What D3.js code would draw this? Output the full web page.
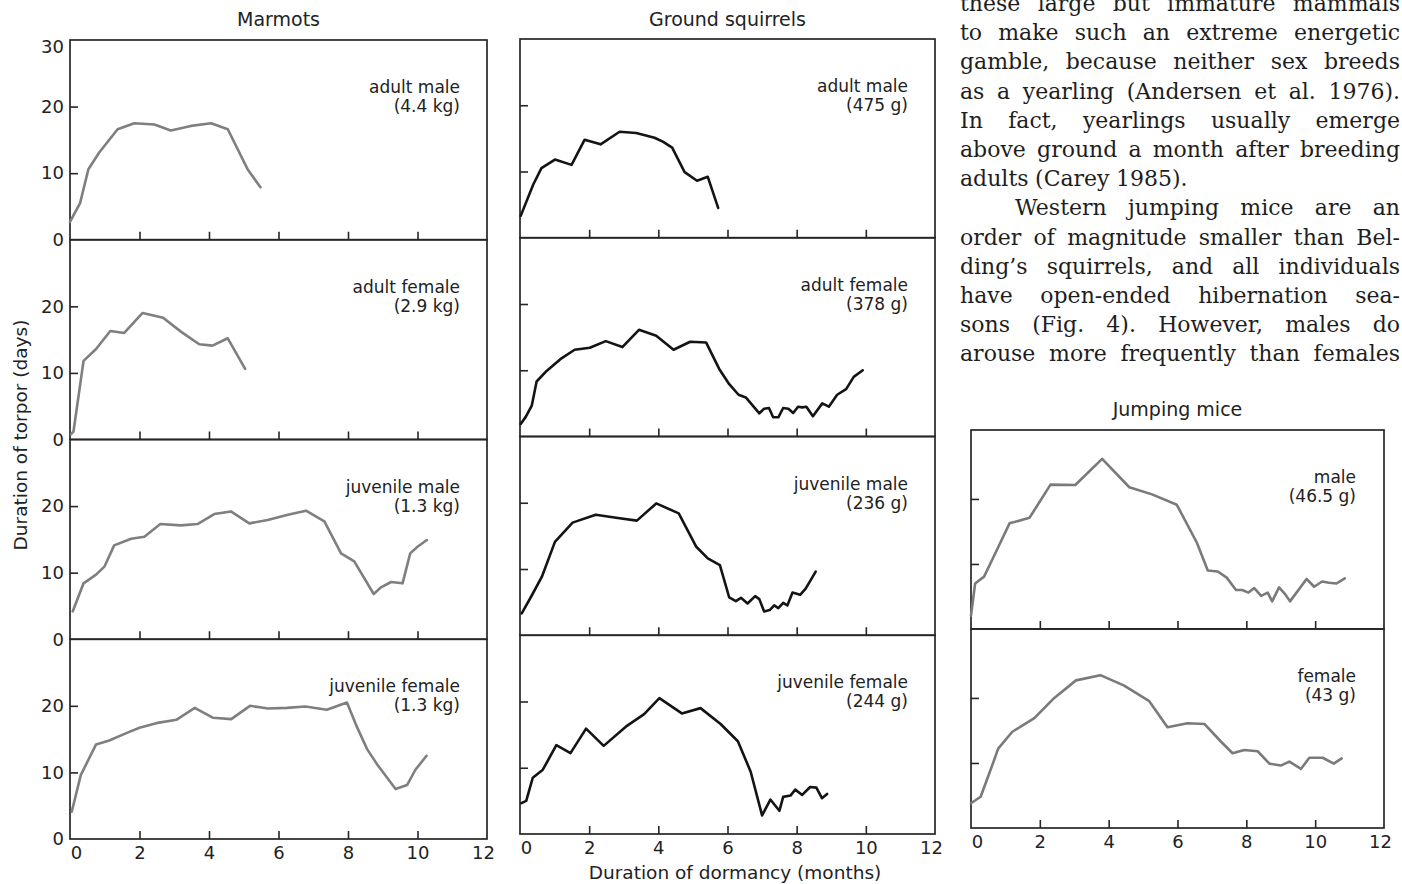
<!DOCTYPE html>
<html>
<head>
<meta charset="utf-8">
<script src="https://cdn.jsdelivr.net/npm/d3@7"></script>
<style>
  body { margin: 0; background: #fff; }
  svg text { font-family: "DejaVu Sans", sans-serif; fill: #222; }
  .para text { font-family: "DejaVu Serif", serif; font-size: 22px; fill: #1e1e1e; }
</style>
</head>
<body>
<svg id="fig" width="1402" height="884"></svg>
<script>
// tick values shared by every panel
const xTicks = [0, 2, 4, 6, 8, 10, 12];
const yTicks = [0, 10, 20];

// [months, days of torpor]
const marmotAdultMale = [[0,2.7],[0.29,5.5],[0.53,10.6],[0.84,13.1],[1.37,16.6],[1.85,17.5],[2.43,17.3],[2.9,16.4],[3.48,17.1],[4.06,17.5],[4.54,16.6],[5.11,10.6],[5.48,7.9]];
const marmotAdultFemale = [[0.03,0.8],[0.1,1.2],[0.39,11.8],[0.75,13.6],[1.16,16.3],[1.56,16.0],[2.09,19.0],[2.68,18.3],[3.19,16.2],[3.72,14.3],[4.1,14.1],[4.54,15.2],[5.04,10.6]];
const marmotJuvMale = [[0.08,4.2],[0.39,8.4],[0.75,9.7],[0.99,10.9],[1.27,14.1],[1.76,15.1],[2.14,15.4],[2.6,17.3],[3.19,17.1],[3.67,17.3],[4.15,18.8],[4.63,19.2],[5.16,17.4],[5.69,17.9],[6.27,18.7],[6.79,19.3],[7.32,17.7],[7.8,12.9],[8.18,11.7],[8.74,6.8],[8.95,7.8],[9.24,8.6],[9.57,8.4],[9.79,12.9],[10.0,13.9],[10.27,14.9]];
const marmotJuvFemale = [[0.05,4.1],[0.31,9.6],[0.75,14.2],[1.13,14.8],[1.62,15.9],[2.0,16.7],[2.48,17.4],[3.06,17.9],[3.59,19.7],[4.12,18.2],[4.64,18.0],[5.18,20.0],[5.7,19.6],[6.24,19.7],[6.77,19.9],[7.39,19.4],[7.97,20.5],[8.26,16.8],[8.55,13.5],[8.84,11.2],[9.37,7.5],[9.7,8.1],[9.94,10.4],[10.26,12.5]];

const squirrelAdultMale = [[0.02,3.3],[0.38,8.0],[0.62,10.5],[1.01,11.8],[1.49,11.0],[1.87,14.8],[2.33,14.1],[2.88,16.0],[3.36,15.8],[3.89,15.1],[4.13,14.5],[4.4,13.6],[4.76,9.9],[5.12,8.6],[5.43,9.2],[5.73,4.5]];
const squirrelAdultFemale = [[0.02,1.9],[0.17,3.0],[0.34,4.65],[0.48,8.3],[0.77,9.9],[1.2,11.8],[1.58,13.1],[2.02,13.4],[2.48,14.4],[2.96,13.5],[3.44,16.1],[3.94,15.2],[4.44,13.1],[4.92,14.3],[5.38,14.2],[5.76,10.2],[6.05,7.9],[6.32,6.3],[6.53,5.9],[6.92,3.5],[7.06,4.2],[7.2,4.3],[7.32,2.9],[7.47,2.9],[7.61,4.3],[7.76,4.2],[7.9,3.55],[8.04,4.5],[8.16,4.4],[8.28,4.5],[8.47,3.05],[8.74,5.0],[8.93,4.5],[9.17,6.3],[9.43,7.15],[9.65,9.0],[9.91,10.0]];
const squirrelJuvMale = [[0.05,3.3],[0.34,6.0],[0.63,8.8],[1.01,14.1],[1.52,17.0],[2.19,18.2],[2.83,17.7],[3.38,17.3],[3.94,19.9],[4.59,18.4],[5.09,13.4],[5.43,11.6],[5.78,10.6],[6.05,5.7],[6.24,5.15],[6.39,5.65],[6.58,4.8],[6.8,5.9],[6.92,5.45],[7.06,3.6],[7.22,3.8],[7.35,4.5],[7.47,4.1],[7.61,4.9],[7.73,4.5],[7.88,6.45],[8.1,6.1],[8.26,7.05],[8.55,9.6]];
const squirrelJuvFemale = [[0.04,4.65],[0.18,5.0],[0.37,8.5],[0.66,9.7],[1.05,13.4],[1.46,12.2],[1.91,15.9],[2.42,13.3],[3.06,16.2],[3.59,18.1],[4.03,20.5],[4.68,18.2],[5.22,19.0],[5.8,16.6],[6.3,14.0],[6.67,9.4],[7.0,2.8],[7.24,5.2],[7.5,3.5],[7.61,5.6],[7.82,5.8],[7.96,6.7],[8.16,5.9],[8.39,7.1],[8.57,7.0],[8.73,5.4],[8.88,6.05]];

const mouseMale = [[0,2.05],[0.12,7.0],[0.38,8.05],[0.72,11.8],[1.12,16.25],[1.7,17.1],[2.31,22.2],[3.03,22.15],[3.81,26.15],[4.6,21.8],[5.26,20.7],[5.98,19.1],[6.56,13.3],[6.88,9.0],[7.17,8.85],[7.43,7.9],[7.7,6.0],[7.88,6.0],[8.06,5.6],[8.23,6.3],[8.43,5.1],[8.62,5.6],[8.75,4.25],[8.95,6.4],[9.12,5.4],[9.27,4.25],[9.75,7.7],[9.97,6.5],[10.2,7.3],[10.4,7.1],[10.62,7.0],[10.86,7.8]];
const mouseFemale = [[0,3.8],[0.28,4.8],[0.58,9.1],[0.79,12.2],[1.2,14.8],[1.84,16.9],[2.42,20.0],[3.05,22.7],[3.76,23.5],[4.45,21.9],[5.18,19.5],[5.71,15.5],[6.29,16.1],[6.78,16.0],[7.26,13.3],[7.6,11.5],[7.94,12.0],[8.33,11.8],[8.67,9.9],[9.0,9.6],[9.25,10.2],[9.59,9.1],[9.83,10.8],[10.22,10.8],[10.54,9.9],[10.77,10.7]];

// panel captions
const marmotLabels = [['adult male', '(4.4 kg)'], ['adult female', '(2.9 kg)'], ['juvenile male', '(1.3 kg)'], ['juvenile female', '(1.3 kg)']];
const squirrelLabels = [['adult male', '(475 g)'], ['adult female', '(378 g)'], ['juvenile male', '(236 g)'], ['juvenile female', '(244 g)']];
const mouseLabels = [['male', '(46.5 g)'], ['female', '(43 g)']];

// body text to the right of the figure
const paraLines = [
  'these large but immature mammals',
  'to make such an extreme energetic',
  'gamble, because neither sex breeds',
  'as a yearling (Andersen et al. 1976).',
  'In fact, yearlings usually emerge',
  'above ground a month after breeding',
  'adults (Carey 1985).',
  'Western jumping mice are an',
  'order of magnitude smaller than Bel-',
  'ding\u2019s squirrels, and all individuals',
  'have open-ended hibernation sea-',
  'sons (Fig. 4). However, males do',
  'arouse more frequently than females'
];

const svg = d3.select('#fig');
const frameColor = '#262626';

const columns = [
  {title: 'Marmots', titleY: 26, left: 70, right: 487, top: 40, h: 199.75, yMax: 30,
   color: '#7f7f7f', yLabels: true, capX: 460,
   series: [marmotAdultMale, marmotAdultFemale, marmotJuvMale, marmotJuvFemale], caps: marmotLabels},
  {title: 'Ground squirrels', titleY: 26, left: 520, right: 935, top: 39, h: 198.75, yMax: 30,
   color: '#141414', yLabels: false, capX: 908,
   series: [squirrelAdultMale, squirrelAdultFemale, squirrelJuvMale, squirrelJuvFemale], caps: squirrelLabels},
  {title: 'Jumping mice', titleY: 416, left: 971, right: 1384, top: 430, h: 199, yMax: 30.6,
   color: '#7a7a7a', yLabels: false, capX: 1356,
   series: [mouseMale, mouseFemale], caps: mouseLabels}
];

function noDomain(a) { a.select('.domain').remove(); }

columns.forEach(col => {
  const x = d3.scaleLinear().domain([0, 12]).range([col.left, col.right]);

  svg.append('text')
    .attr('x', (col.left + col.right) / 2)
    .attr('y', col.titleY)
    .attr('text-anchor', 'middle')
    .attr('font-size', 19)
    .text(col.title);

  col.series.forEach((data, i) => {
    const top = col.top + i * col.h,
          bottom = top + col.h;
    const y = d3.scaleLinear().domain([0, col.yMax]).range([bottom, top]);
    const g = svg.append('g');

    // inward ticks
    g.append('g')
      .attr('transform', `translate(0,${bottom})`)
      .attr('color', frameColor)
      .call(d3.axisBottom(x).tickValues(xTicks.slice(1, -1)).tickSize(-8).tickFormat(''))
      .call(noDomain)
      .selectAll('line').attr('stroke-width', 1.6);

    g.append('g')
      .attr('transform', `translate(${col.left},0)`)
      .attr('color', frameColor)
      .call(d3.axisLeft(y).tickValues([10, 20]).tickSize(-8).tickFormat(''))
      .call(noDomain)
      .selectAll('line').attr('stroke-width', 1.6);

    if (col.yLabels) {
      const ya = g.append('g')
        .attr('transform', `translate(${col.left},0)`)
        .call(d3.axisLeft(y).tickValues(yTicks).tickSize(0).tickPadding(6))
        .call(noDomain);
      ya.selectAll('text').attr('font-size', 18).attr('font-family', '"DejaVu Sans", sans-serif').attr('fill', '#222');
      if (i === 0) {
        g.append('text')
          .attr('x', col.left - 6)
          .attr('y', y(30))
          .attr('dy', '0.74em')
          .attr('text-anchor', 'end')
          .attr('font-size', 18)
          .text('30');
      }
    }

    g.append('rect')
      .attr('x', col.left)
      .attr('y', top)
      .attr('width', col.right - col.left)
      .attr('height', col.h)
      .attr('fill', 'none')
      .attr('stroke', frameColor)
      .attr('stroke-width', 1.7);

    g.append('path')
      .datum(data)
      .attr('fill', 'none')
      .attr('stroke', col.color)
      .attr('stroke-width', 2.6)
      .attr('stroke-linejoin', 'round')
      .attr('stroke-linecap', 'round')
      .attr('d', d3.line().x(d => x(d[0])).y(d => y(d[1])));

    const cap = g.append('text')
      .attr('text-anchor', 'end')
      .attr('font-size', 17);
    cap.append('tspan').attr('x', col.capX).attr('y', top + 53).text(col.caps[i][0]);
    cap.append('tspan').attr('x', col.capX).attr('y', top + 72).text(col.caps[i][1]);

    // month labels under the lowest panel
    if (i === col.series.length - 1) {
      const xa = g.append('g')
        .attr('transform', `translate(0,${bottom})`)
        .call(d3.axisBottom(x).tickValues(xTicks).tickSize(0).tickPadding(7))
        .call(noDomain);
      xa.selectAll('text')
        .attr('font-size', 18)
        .attr('font-family', '"DejaVu Sans", sans-serif')
        .attr('fill', '#222')
        .attr('dx', d => d === 0 ? 6 : d === 12 ? -4 : 0);
    }
  });
});

// axis titles
svg.append('text')
  .attr('transform', 'translate(27,435) rotate(-90)')
  .attr('text-anchor', 'middle')
  .attr('font-size', 18.5)
  .text('Duration of torpor (days)');

svg.append('text')
  .attr('x', 735)
  .attr('y', 879)
  .attr('text-anchor', 'middle')
  .attr('font-size', 18.5)
  .text('Duration of dormancy (months)');

// justified paragraph
const para = svg.append('g').attr('class', 'para');
const paraLeft = 960, paraRight = 1400;
paraLines.forEach((line, i) => {
  const yb = 11 + i * 29.2;
  const indent = i === 7 ? 55 : 0;
  const words = line.split(' ');
  const texts = words.map(w => para.append('text').attr('y', yb).text(w));
  const widths = texts.map(t => t.node().getComputedTextLength());
  const total = d3.sum(widths);
  const gap = i === 6 ? 6.5 : (paraRight - paraLeft - indent - total) / (words.length - 1);
  let xx = paraLeft + indent;
  texts.forEach((t, j) => {
    t.attr('x', xx);
    xx += widths[j] + gap;
  });
});
</script>
</body>
</html>
